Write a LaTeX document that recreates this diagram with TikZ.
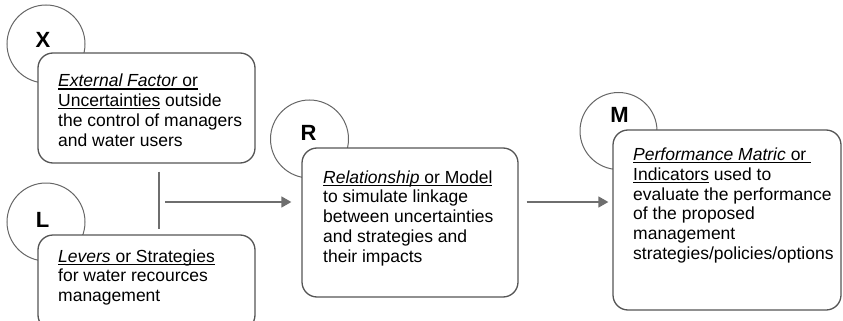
\documentclass[tikz,border=0pt]{standalone}
\usepackage{fontspec}
\setmainfont{Liberation Sans}
\usetikzlibrary{arrows.meta}
\newcommand\ulx[1]{\setbox0\hbox{#1}\rlap{\rule[-2.6pt]{\wd0}{1.1pt}}\box0\relax}
\newcommand\fst{\rule{0pt}{14pt}}
\definecolor{boxline}{HTML}{555555}
\definecolor{circline}{HTML}{666666}
\definecolor{arrline}{HTML}{6E6E6E}
\tikzset{
  circ/.style={circle, draw=circline, line width=1pt, minimum size=78pt, inner sep=0pt, fill=white},
  letter/.style={font=\fontsize{22}{24}\selectfont\bfseries, inner sep=0pt},
  box/.style={draw=boxline, line width=1.3pt, rounded corners=15pt, fill=white, inner sep=0pt},
  txt/.style={font=\fontsize{17.5}{19.7}\selectfont, align=left, inner sep=0pt, anchor=north west},
  arr/.style={draw=arrline, line width=1.6pt, -{Triangle[length=10pt,width=11pt]}},
}
\begin{document}
\begin{tikzpicture}[x=1pt,y=-1pt]
\useasboundingbox (0,0) rectangle (843,321);
\clip (0,0) rectangle (843,321);
% circles
\node[circ] (cx) at (46,44) {};
\node[circ] (cl) at (46,222) {};
\node[circ] (cr) at (309.5,139) {};
\node[circ, minimum size=77pt] (cm) at (618.5,131) {};
\node[letter] (lx) at (43,40) {X};
\node[letter] (ll) at (42.5,220) {L};
\node[letter] (lr) at (308.5,133) {R};
\node[letter] (lm) at (619.5,114.5) {M};
% boxes
\node[box, minimum width=217pt, minimum height=110pt] (xbox) at (146.5,108) {};
\node[box, minimum width=217pt, minimum height=95pt] (lbox) at (146.5,282.5) {};
\node[box, minimum width=216pt, minimum height=149pt] (rbox) at (410,222.5) {};
\node[box, minimum width=228pt, minimum height=180pt] (mbox) at (727,220) {};
% texts (first baseline = y + 14)
\node[txt] (tx) at (58,72.7) {\fst\ulx{\textit{External Factor} or}\\\ulx{Uncertainties} outside\\the control of managers\\and water users};
\node[txt] (tl) at (58,248) {\fst\ulx{\textit{Levers} or Strategies}\\for water recources\\management};
\node[txt] (tr) at (323,169) {\fst\ulx{\textit{Relationship} or Model}\\to simulate linkage\\between uncertainties\\and strategies and\\their impacts};
\node[txt] (tm) at (633,146.5) {\fst\ulx{\textit{Performance Matric} or\ }\\\ulx{Indicators} used to\\evaluate the performance\\of the proposed\\management\\strategies/policies/options};
% connectors
\coordinate (j) at (159,202);
\draw[draw=arrline, line width=2.4pt] ([yshift=-8pt]xbox.south -| j) -- ([yshift=5pt]lbox.north -| j);
\coordinate (a0) at ([xshift=6pt]j);
\coordinate (a1) at (rbox.west |- j);
\draw[arr, shorten >=10pt] (a0) -- (a1);
\coordinate (b0) at (rbox.east |- j);
\coordinate (b1) at (mbox.west |- j);
\draw[arr, shorten >=4pt] ([xshift=8pt]b0) -- (b1);
\end{tikzpicture}
\end{document}
